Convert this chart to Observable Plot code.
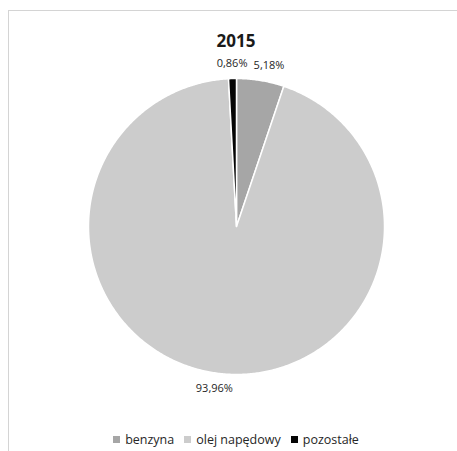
<!DOCTYPE html>
<html>
<head>
<meta charset="utf-8">
<script src="https://cdn.jsdelivr.net/npm/d3@7"></script>
<script src="https://cdn.jsdelivr.net/npm/@observablehq/plot@0.6"></script>
<style>
  html, body { margin: 0; padding: 0; background: #fff; }
  body { width: 457px; height: 451px; overflow: hidden; position: relative; font-family: "Open Sans", sans-serif; }
  #frame { position: absolute; left: 8px; top: 10px; right: -2px; bottom: -2px; border-left: 1px solid #d4d4d4; border-top: 1px solid #d4d4d4; }
  #chart { position: absolute; left: 0; top: 0; }
  #legend { position: absolute; left: 0; width: 472px; top: 431px; display: flex; justify-content: center; gap: 10px; font-size: 12.5px; color: #262626; }
  #legend .item { display: flex; align-items: center; gap: 5px; }
  #legend .sw { width: 7px; height: 7px; display: inline-block; }
</style>
</head>
<body>
<div id="frame"></div>
<div id="chart"></div>
<div id="legend"></div>
<script>
const title = "2015";
const categories = ["benzyna", "olej napędowy", "pozostałe"];
const values = [5.18, 93.96, 0.86];
const labels = ["5,18%", "93,96%", "0,86%"];
const colors = ["#a6a6a6", "#cccccc", "#050505"];

// pie layout (clockwise from 12 o'clock, original order)
const arcs = d3.pie().sort(null).value(d => d)(values);

// polygon points for each slice in unit coordinates
const pts = [];
arcs.forEach((a, i) => {
  const name = categories[i];
  pts.push({name, x: 0, y: 0});
  const n = Math.max(2, Math.ceil((a.endAngle - a.startAngle) / (Math.PI / 360)));
  for (let k = 0; k <= n; k++) {
    const t = a.startAngle + (a.endAngle - a.startAngle) * k / n;
    pts.push({name, x: Math.sin(t), y: Math.cos(t)});
  }
});

const labelData = arcs.map((a, i) => {
  const m = (a.startAngle + a.endAngle) / 2;
  return {name: categories[i], label: labels[i], x: 1.105 * Math.sin(m), y: 1.105 * Math.cos(m)};
});

const cx = 236, cy = 226, r = 148;

const plot = Plot.plot({
  width: 457,
  height: 420,
  margin: 0,
  x: {domain: [-1, 1], range: [cx - r, cx + r], axis: null},
  y: {domain: [-1, 1], range: [cy + r, cy - r], axis: null},
  color: {domain: categories, range: colors},
  style: {fontFamily: "Open Sans, sans-serif", background: "transparent", overflow: "visible"},
  marks: [
    Plot.line(pts, {x: "x", y: "y", z: "name", fill: "name", stroke: "#fff", strokeWidth: 1.5, curve: "linear-closed"}),
    Plot.text(labelData, {x: "x", y: "y", text: "label", fontSize: 11, fill: "#262626"}),
    Plot.text([title], {frameAnchor: "top", dy: 34, text: d => d, fontSize: 17, fontWeight: "bold", fill: "#1a1a1a", dx: 7})
  ]
});
document.getElementById("chart").appendChild(plot);
// nudge benzyna label like the source
d3.select(plot).selectAll("text").filter(function() { return this.textContent === "5,18%"; }).attr("dx", 6);

const legend = document.getElementById("legend");
categories.forEach((c, i) => {
  const it = document.createElement("span");
  it.className = "item";
  const sw = document.createElement("span");
  sw.className = "sw";
  sw.style.background = colors[i];
  const tx = document.createElement("span");
  tx.textContent = c;
  it.appendChild(sw);
  it.appendChild(tx);
  legend.appendChild(it);
});
</script>
</body>
</html>
